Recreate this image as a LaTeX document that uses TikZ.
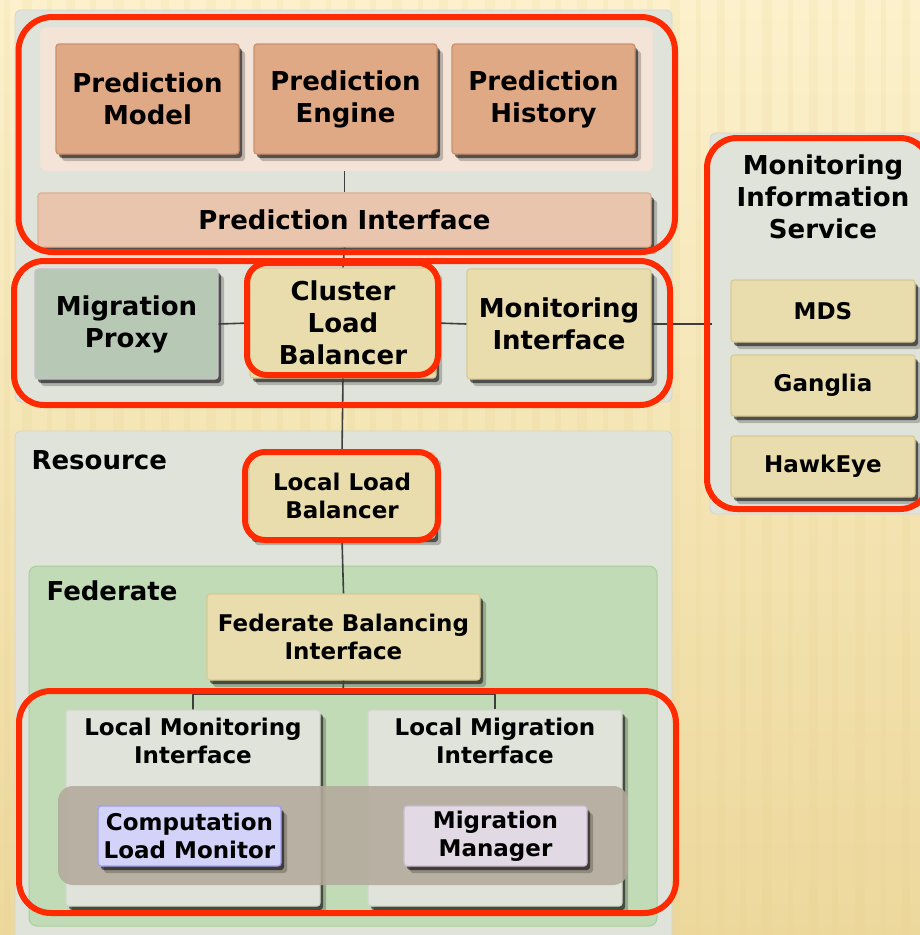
\documentclass[tikz,border=0pt]{standalone}
\usepackage{fontspec}
\setmainfont{DejaVu Sans}
\usetikzlibrary{positioning,shadows}
\definecolor{bgtop}{HTML}{FCF1CC}
\definecolor{bgbottom}{HTML}{EDD89C}
\definecolor{grain}{HTML}{E6CE8A}
\definecolor{panelgrey}{HTML}{DFE3DA}
\definecolor{panelline}{HTML}{D2D6CB}
\definecolor{pinkpanel}{HTML}{F4E4D8}
\definecolor{predfill}{HTML}{E0A986}
\definecolor{predline}{HTML}{C98F6C}
\definecolor{pifill}{HTML}{EAC5AD}
\definecolor{piline}{HTML}{DDAF92}
\definecolor{sand}{HTML}{E9DDAD}
\definecolor{sandline}{HTML}{D8CA94}
\definecolor{sage}{HTML}{B7C8B5}
\definecolor{sageline}{HTML}{C7BFCB}
\definecolor{fedgreen}{HTML}{C2DBB7}
\definecolor{fedline}{HTML}{A8CE9C}
\definecolor{lavender}{HTML}{D3D3FA}
\definecolor{lavline}{HTML}{9E9EF2}
\definecolor{mauve}{HTML}{E1D9E3}
\definecolor{mauveline}{HTML}{CBBED0}
\definecolor{band}{HTML}{B3A99B}
\definecolor{wire}{HTML}{3E3E3E}
\definecolor{hot}{HTML}{FF2A00}

\begin{document}
\begin{tikzpicture}[x=1pt,y=-1pt,
    bigfont/.style={font=\bfseries\fontsize{26}{32}\selectfont},
    midfont/.style={font=\bfseries\fontsize{23}{28}\selectfont},
    panel/.style={fill=panelgrey,draw=panelline,line width=0.8pt,rounded corners=6pt},
    box/.style={rectangle,rounded corners=3pt,line width=1.2pt,align=center,inner sep=0pt,
      drop shadow={shadow xshift=6pt,shadow yshift=-7pt,opacity=0.22,fill=black},
      drop shadow={shadow xshift=3pt,shadow yshift=-4pt,opacity=0.55,fill=black}},
    predbox/.style={box,bigfont,fill=predfill,draw=predline,minimum width=183pt,minimum height=110pt},
    sandbox/.style={box,fill=sand,draw=sandline},
    subbox/.style={box,fill=panelgrey,draw=panelline,minimum width=254pt,minimum height=196pt},
    link/.style={draw=wire,line width=1.6pt},
    hl/.style={draw=hot,line width=6pt}]
  \clip (0,0) rectangle (920,935);
  % background with grain
  \shade[top color=bgtop,bottom color=bgbottom] (0,0) rectangle (920,935);
  \foreach \s/\w in {4/6,22/10,47/5,66/9,90/6,113/11,140/5,161/8,184/6,206/10,231/5,
      252/9,277/6,300/10,326/5,347/8,370/6,392/10,418/5,439/9,462/6,485/10,511/5,
      532/8,555/6,577/10,603/5,624/9,647/6,670/10,696/5,717/8,740/6,762/10,788/5,
      809/9,832/6,855/10,881/5,902/8}
    \fill[grain,opacity=0.14] (\s,0) rectangle ++(\w,935);

  % prediction and cluster layers
  \draw[panel] (15,10) rectangle (672,402);
  \node[fill=pinkpanel,draw=piline!40,rounded corners=6pt,minimum width=613pt,minimum height=144pt] (predgroup) at (346.5,99) {};
  \node[predbox] (model) at (147.5,99) {Prediction\\Model};
  \node[predbox] (engine) at (345.5,99) {Prediction\\Engine};
  \node[predbox] (history) at (543.5,99) {Prediction\\History};
  \node[box,bigfont,fill=pifill,draw=piline,minimum width=613pt,minimum height=54pt] (pint) at (344.5,220) {Prediction Interface};
  \node[box,bigfont,fill=sage,draw=sageline,minimum width=183pt,minimum height=110pt] (mproxy) at (126.5,324) {Migration\\Proxy};
  \node[sandbox,bigfont,minimum width=186pt,minimum height=110pt] (clb) at (343,323) {Cluster\\Load\\Balancer};
  \node[sandbox,bigfont,minimum width=184pt,minimum height=110pt] (mi) at (559,324) {Monitoring\\Interface};

  % monitoring information service
  \draw[panel] (710,133) rectangle (940,514);
  \node[bigfont,align=center] (mistitle) at (823,197) {Monitoring\\Information\\Service};
  \node[sandbox,midfont,minimum width=184pt,minimum height=62pt] (mds) at (823,311) {MDS};
  \node[sandbox,midfont,minimum width=184pt,minimum height=61pt] (ganglia) at (823,385.5) {Ganglia};
  \node[sandbox,midfont,minimum width=184pt,minimum height=61pt] (hawkeye) at (823,466.5) {HawkEye};

  % resource and federate
  \draw[panel] (15,431) rectangle (672,945);
  \node[bigfont,anchor=west] (restitle) at (28,460) {Resource};
  \node[sandbox,midfont,minimum width=186pt,minimum height=85pt] (llb) at (342,495.5) {Local Load\\Balancer};
  \draw[fill=fedgreen,draw=fedline,line width=1pt,rounded corners=8pt] (29,566) rectangle (657,926);
  \node[bigfont,anchor=west] (fedtitle) at (43,591) {Federate};
  \node[sandbox,midfont,minimum width=273pt,minimum height=86pt] (fbi) at (343.5,637) {Federate Balancing\\Interface};
  \node[subbox] (lmi) at (193,808) {};
  \node[subbox] (lmgi) at (495,808) {};
  \node[midfont,align=center,anchor=north] (lmititle) at ([yshift=-5pt]lmi.north) {Local Monitoring\\Interface};
  \node[midfont,align=center,anchor=north] (lmgititle) at ([yshift=-5pt]lmgi.north) {Local Migration\\Interface};
  \fill[band,opacity=0.88,rounded corners=15pt] (58,786) rectangle (628,885);
  \node[box,midfont,fill=lavender,draw=lavline,minimum width=183pt,minimum height=60pt] (clm) at (189.5,836) {Computation\\Load Monitor};
  \node[box,midfont,fill=mauve,draw=mauveline,minimum width=183pt,minimum height=60pt] (mm) at (495.5,836) {Migration\\Manager};

  % wiring
  \draw[link] (predgroup.south -| pint.north) -- (pint.north);
  \draw[link] (pint.south) -- (clb.north);
  \draw[link] (mproxy.east) -- (clb.west);
  \draw[link] (clb.east) -- (mi.west);
  \draw[link] (mi.east) -- ([xshift=-18pt]mi.east -| mds.west);
  \draw[link] (clb.south) -- (llb.north);
  \draw[link] (llb.south) -- (fbi.north);
  \coordinate (fork) at (343,694);
  \draw[link] (fbi.south) -- (fork) -| (lmi.north);
  \draw[link] (fork) -| (lmgi.north);

  % highlights
  \draw[hl,rounded corners=34pt] (18.5,17) rectangle (675,252);
  \draw[hl,rounded corners=30pt] (14,261) rectangle (670,405);
  \draw[hl,rounded corners=20pt] (247,263) rectangle (438,375);
  \draw[hl,rounded corners=20pt] (245,452) rectangle (438,540);
  \draw[hl,rounded corners=32pt] (19,691) rectangle (676,913);
  \draw[hl,rounded corners=30pt] (707,138) rectangle (930,509);
\end{tikzpicture}
\end{document}
